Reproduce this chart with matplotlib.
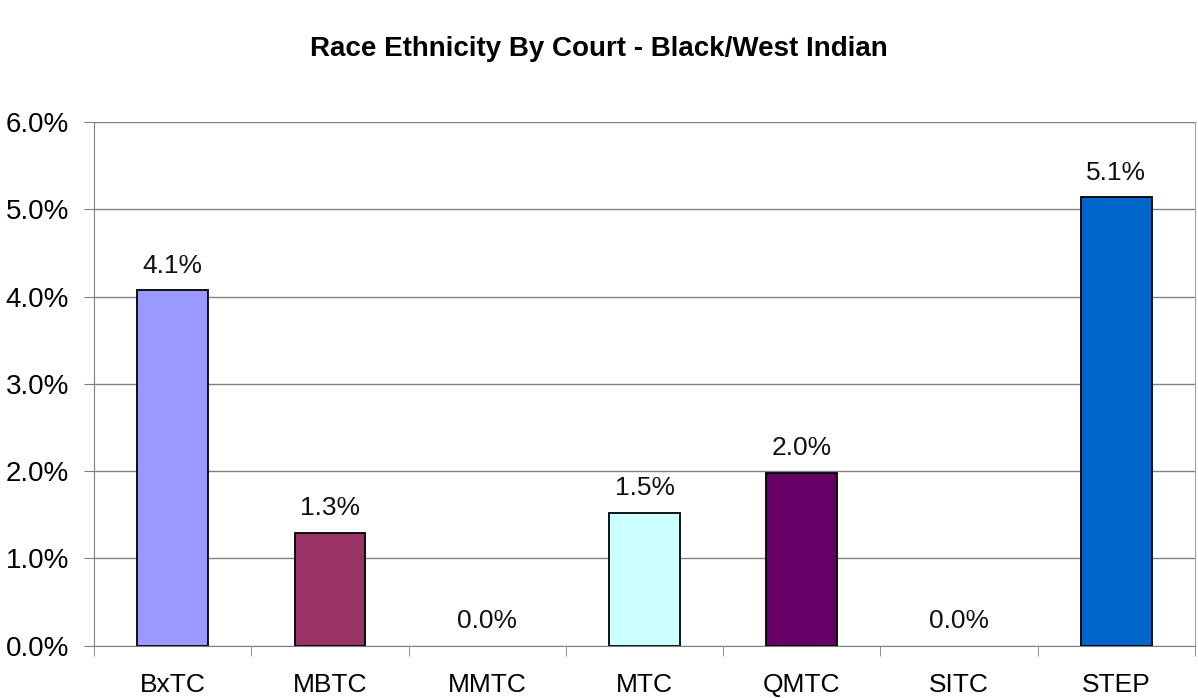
import matplotlib.pyplot as plt
import numpy as np

courts = ["BxTC", "MBTC", "MMTC", "MTC", "QMTC", "SITC", "STEP"]
pct = [4.07, 1.29, 0.0, 1.52, 1.98, 0.0, 5.14]
labels = ["4.1%", "1.3%", "0.0%", "1.5%", "2.0%", "0.0%", "5.1%"]
colors = ["#9999FF", "#993366", "#FFFFCC", "#CCFFFF", "#660066", "#FF8080", "#0066CC"]
yticks = [0, 1, 2, 3, 4, 5, 6]

plt.rcParams['font.family'] = ['Liberation Sans', 'DejaVu Sans']

fig = plt.figure(figsize=(11.98, 6.98), dpi=100)
ax = fig.add_axes([0.0785, 0.0752, 0.919, 0.7498])

x = np.arange(len(courts))
# zero-height bars show no outline in the original
edge_w = [1.3 if v > 0 else 0 for v in pct]
ax.bar(x, pct, width=0.45, color=colors, edgecolor="black", linewidth=edge_w, zorder=3)

for xi, v, lab in zip(x, pct, labels):
    ax.annotate(lab, (xi, v), xytext=(0, 9), textcoords="offset points",
                ha="center", va="bottom", fontsize=19, color="#111111")

ax.set_xlim(-0.5, len(courts) - 0.5)
ax.set_ylim(0, 6)
ax.set_yticks(yticks)
ax.set_yticklabels([f"{t:.1f}%" for t in yticks], fontsize=20)
ax.yaxis.grid(True, color="#808080", linewidth=1, zorder=0)

# category labels centred, tick marks between categories
ax.set_xticks(x)
ax.set_xticklabels(courts, fontsize=19)
ax.tick_params(axis="x", length=0, pad=20)
ax.set_xticks(np.arange(len(courts) + 1) - 0.5, minor=True)
ax.tick_params(axis="x", which="minor", length=7, color="#808080")
ax.tick_params(axis="y", length=7, color="#808080", pad=11)

for side in ["left", "bottom"]:
    ax.spines[side].set_color("#808080")
ax.spines["top"].set_visible(False)
ax.spines["right"].set_color("#a0a0a0")

fig.suptitle("Race Ethnicity By Court - Black/West Indian", y=0.948,
             fontsize=20, fontweight="bold")

fig.savefig("out.png", dpi=100)
